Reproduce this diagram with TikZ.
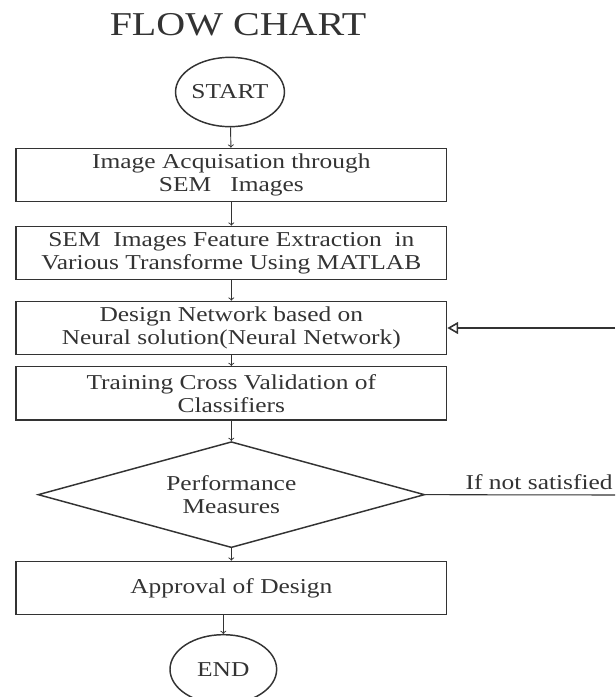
\documentclass[tikz,border=0pt]{standalone}
\usepackage{fontspec}
\setmainfont{Liberation Serif}[FakeStretch=1.2]
\usepackage{tikz}
\usetikzlibrary{shapes.geometric,arrows}
\usepackage{xcolor}
\definecolor{inkgray}{HTML}{333333}

\begin{document}
\begin{tikzpicture}[x=0.75pt,y=0.75pt,line width=1.1pt,draw=inkgray,text=inkgray,
	every node/.style={font=\fontsize{15.9}{17.5}\selectfont,align=center},
	proc/.style={rectangle,draw,minimum width=323pt,minimum height=40pt,inner sep=0pt},
	term/.style={ellipse,draw,inner sep=0pt},
	decide/.style={diamond,draw,minimum width=290pt,minimum height=79.5pt,inner sep=0pt,aspect=3.6},
	flow/.style={->,line width=0.7pt}]
	\useasboundingbox (0,0) rectangle (615,-697);
	\node[font=\fontsize{25}{30}\selectfont] 	(T)		at (238,-25)			{FLOW CHART};
	\node[term,minimum width=66pt,minimum height=52pt]	(St)	at (230,-92)	{START};
	\node[proc]		(Ia)	[node distance=62.25pt,below of=St,xshift=1pt]	{Image Acquisation through\\ SEM~~ Images};
	\node[proc]		(Fe)	[node distance=58.5pt,below of=Ia]	{SEM~ Images Feature Extraction~ in\\ Various Transforme Using MATLAB};
	\node[proc]		(Dn)	[node distance=56.25pt,below of=Fe]	{Design Network based on\\ Neural solution(Neural Network)};
	\node[proc]		(Tc)	[node distance=49pt,below of=Dn]	{Training Cross Validation of\\ Classifiers};
	\node[decide]	(Pm)	[node distance=76pt,below of=Tc]	{Performance\\ Measures};
	\node[proc]		(Ap)	[node distance=70pt,below of=Pm]	{Approval of Design};
	\node[term,minimum width=80pt,minimum height=52pt]	(En)	[node distance=61pt,below of=Ap,xshift=-6pt]	{END};

	\coordinate		(R1)	at (615,-328);
	\coordinate		(R2)	at (615,-495);

	\path[flow]	(St) edge (Ia)
				(Ia) edge (Fe)
				(Fe) edge (Dn)
				(Dn) edge (Tc)
				(Tc) edge (Pm)
				(Pm) edge (Ap);
	\draw[flow]	(Ap.south -| En) -- (En.north);
	% loop back when not satisfied
	\draw[line width=0.8pt]	(Pm.east) -- node[above,pos=0.6] {If not satisfied} (R2);
	\draw[-open triangle 60,line width=1.2pt]	(R1) -- (Dn.east);
\end{tikzpicture}
\end{document}
